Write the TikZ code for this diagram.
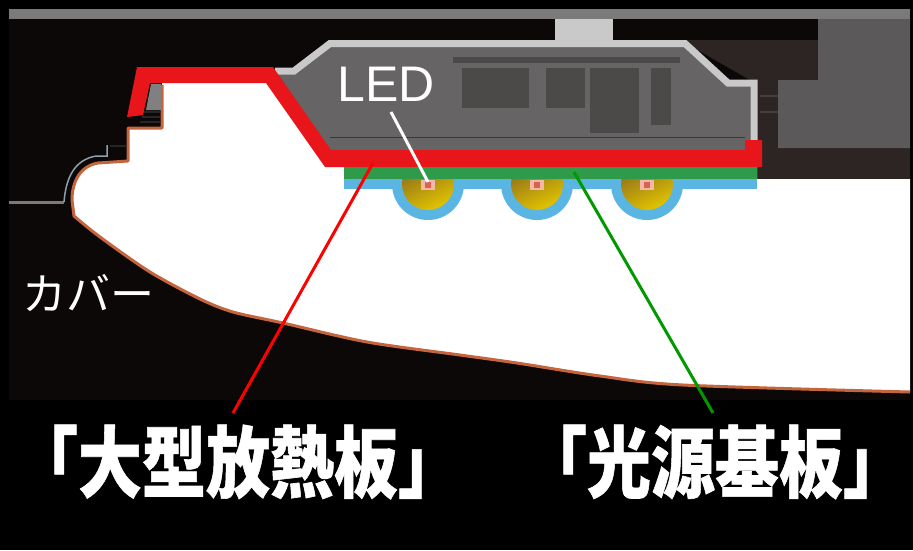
\documentclass[tikz,border=0pt]{standalone}
\usepackage{graphicx}
\usepackage{fontspec}
\setmainfont{Liberation Sans}
\newfontfamily\jpfont{Noto Sans CJK JP}
\newfontfamily\jpheavy[BoldFeatures={FakeBold=0.8}]{Noto Sans CJK JP}

\definecolor{bgdark}{HTML}{0D0808}
\definecolor{railgray}{HTML}{7B7979}
\definecolor{shellgray}{HTML}{C9C9C9}
\definecolor{housinggray}{HTML}{666464}
\definecolor{panelgray}{HTML}{4C4949}
\definecolor{blockgray}{HTML}{5B5959}
\definecolor{blockdark}{HTML}{2D2523}
\definecolor{sinkred}{HTML}{E8161B}
\definecolor{boardgreen}{HTML}{2E9A4A}
\definecolor{boardblue}{HTML}{5BB5E3}
\definecolor{dometop}{HTML}{86661E}
\definecolor{domebot}{HTML}{E2C400}
\definecolor{chippink}{HTML}{F2B8A8}
\definecolor{chipred}{HTML}{E06050}
\definecolor{coverline}{HTML}{C4653D}
\definecolor{edgeblue}{HTML}{8CA0B0}
\definecolor{leadred}{HTML}{FF0000}
\definecolor{leadgreen}{HTML}{009A00}

% tall, heavy caption text
\newcommand{\tallcaption}[1]{\scalebox{1.0}[1.22]{#1}}

\tikzset{
  leader/.style={line width=3pt},
  biglabel/.style={text=white, inner sep=0pt,
    font=\jpheavy\bfseries\fontsize{64}{70}\selectfont},
  smalllabel/.style={text=white, inner sep=0pt,
    font=\jpfont\fontsize{44}{50}\selectfont},
  ledlabel/.style={text=white, inner sep=0pt,
    font=\fontsize{50}{56}\selectfont},
}

\begin{document}
\begin{tikzpicture}[x=1pt,y=-1pt]
\useasboundingbox (0,0) rectangle (913,550);

% background and frame
\fill[black] (0,0) rectangle (913,550);
\fill[bgdark] (9,9) rectangle (910,400);
\fill[railgray] (9,9) rectangle (910,19);

% rear fixture block
\fill[blockdark] (680,40) -- (818,40) -- (818,80) -- (778,80) -- (778,148)
  -- (910,148) -- (910,179) -- (757,179) -- (757,84) -- cycle;
\fill[blockgray] (818,19) -- (910,19) -- (910,148) -- (778,148) -- (778,80)
  -- (818,80) -- cycle;
\draw[blockgray!70!black, line width=2pt] (760,96) -- (778,96) (760,112) -- (778,112);

% mounting stem
\fill[shellgray] (555,19) rectangle (613,42);

% cover
\fill[white] (162,83) -- (162,128) -- (128,128) -- (128,161) -- (98,163)
  .. controls (80,166) and (72,182) .. (72,200) -- (74,216)
  -- plot[smooth, tension=0.5] coordinates {(74,216) (100,237) (150,272) (200,299)
     (233,312) (283,323) (367,342) (460,355) (517,363) (600,376) (683,385) (910,392)}
  -- (910,179) -- (757,179) -- (757,160) -- (330,160) -- (268,80) -- cycle;
\draw[coverline, line width=3pt, line join=round]
  (162,85) -- (162,128) -- (128,128) -- (128,161) -- (98,163)
  .. controls (80,166) and (72,182) .. (72,200) -- (74,216)
  -- plot[smooth, tension=0.5] coordinates {(74,216) (100,237) (150,272) (200,299)
     (233,312) (283,323) (367,342) (460,355) (517,363) (600,376) (683,385) (910,392)};

% side rail and seal at the left end
\draw[railgray, line width=3pt] (9,202) -- (64,202);
\draw[edgeblue, line width=1.5pt] (64,202) .. controls (66,178) and (74,160) .. (96,156)
  -- (107,156) -- (107,145);
\fill[gray] (151,84) -- (161,84) -- (161,110) -- (146,110) -- cycle;
\draw[black!85, line width=1.2pt] (143,112) -- (160,112) (142,117) -- (160,117)
  (140,122) -- (160,122) (110,146) -- (127,146);

% housing
\fill[housinggray] (275,70) -- (294,70) -- (330,43) -- (685,43) -- (728,83)
  -- (754,83) -- (754,150) -- (330,150) -- cycle;
\fill[panelgray] (453,57) rectangle (680,63);
\fill[panelgray] (462,68) rectangle (529,108);
\fill[panelgray] (546,68) rectangle (585,108);
\fill[panelgray] (590,68) rectangle (639,133);
\fill[panelgray] (651,68) rectangle (671,125);
\draw[housinggray!70!red!60!black, line width=1pt] (330,137) -- (745,137);
\draw[shellgray, line width=7pt, line join=miter]
  (275,71) -- (294,71) -- (330,43.5) -- (685,43.5) -- (728,83) -- (754,83) -- (754,141);

% large heat sink
\fill[sinkred] (127,117) -- (137,67) -- (273,67) -- (331,150) -- (745,150)
  -- (745,140) -- (762,140) -- (762,167) -- (325,167) -- (266,83) -- (150,83)
  -- (143,115) -- cycle;

% light source board with LEDs
\fill[boardblue] (344,179) rectangle (757,189);
\begin{scope}
  \clip (340,179) rectangle (760,240);
  \foreach \cx in {428,537,647} {
    \fill[boardblue] (\cx,184) circle (36);
    \shade[top color=dometop, bottom color=domebot, shading angle=25] (\cx,184) circle (26);
  }
\end{scope}
\fill[boardgreen] (344,167) rectangle (757,179);
\foreach \cx in {428,537,647} {
  \fill[chippink] (\cx-7,180) rectangle (\cx+7,190);
  \fill[chipred] (\cx-3,182) rectangle (\cx+3,188);
}

% labels and leaders
\node[ledlabel] (led) at (386,84) {LED};
\coordinate (ledstart) at (391,112);
\coordinate (ledchip) at (428,182);
\draw[white, leader] (ledstart) -- (ledchip);

\node[smalllabel] (cover) at (88,293) {カバー};

\coordinate (sinkpt) at (373,163);
\coordinate (sinkend) at (233,413);
\draw[leadred, leader] (sinkpt) -- (sinkend);
\node[biglabel] (sinklabel) at (238,462) {\tallcaption{「大型放熱板」}};

\coordinate (boardpt) at (574,172);
\coordinate (boardend) at (713,413);
\draw[leadgreen, leader] (boardpt) -- (boardend);
\node[biglabel] (boardlabel) at (715,462) {\tallcaption{「光源基板」}};
\end{tikzpicture}
\end{document}
